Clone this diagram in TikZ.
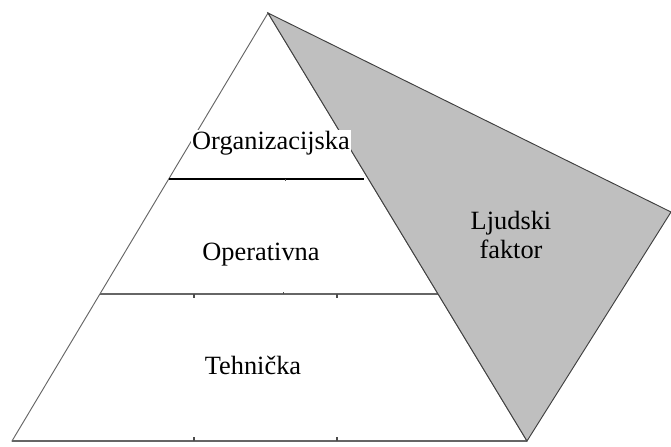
\documentclass[tikz,border=0pt]{standalone}
\usepackage{fontspec}
\setmainfont{Liberation Serif}
\begin{document}
\begin{tikzpicture}[x=0.03cm, y=-0.03cm]
      \tikzset{level/.style={font=\fontsize{22.5}{25.5}\selectfont, inner sep=1pt},
               edgeline/.style={draw=black!60, line width=0.8pt},
               tick/.style={draw=black!70, line width=0.9pt}}
      \useasboundingbox (0,0) rectangle (671,446);
%% Corners
      	\coordinate (top) at (268,13);
      	\coordinate (bl) at (12,441);
    	\coordinate (br) at (527,441);
  	    \coordinate (hr) at (671,212);
  	    \coordinate (a1) at (169,179);
  	    \coordinate (b1) at (364,179);
  	    \coordinate (a2) at (100,294);
  	    \coordinate (b2) at (438,294);
%Pyramid
		\path[edgeline, fill=white] (top) -- (bl) -- (br) -- cycle;
		\draw[black!60, line width=1.8pt] (bl) -- (br);
		\draw[black, line width=1.2pt] (a1) -- (b1);
		\draw[black!60, line width=1pt] (a2) -- (b2);
%Ticks
		\foreach \x in {194,337} {
			\draw[tick] (\x,294) -- (\x,298);
			\draw[tick] (\x,441) -- (\x,437);
		}
		\draw[tick, line width=0.5pt] (283,294) -- (283,292);
		\draw[tick, line width=0.5pt] (285,179) -- (285,181);
%Human factor
		\path[draw=black!75, line width=0.8pt, fill=black!25] (top) -- (hr) -- (br) -- cycle;
%% Labels
		\node[level, fill=white] (org) at (271,143) {Organizacijska};
		\node[level] (ope) at (261,255) {Operativna};
		\node[level] (teh) at (253,365) {Tehnička};
		\node[level, align=center] (ljf) at (511,235) {Ljudski\\faktor};
	\end{tikzpicture}
\end{document}
